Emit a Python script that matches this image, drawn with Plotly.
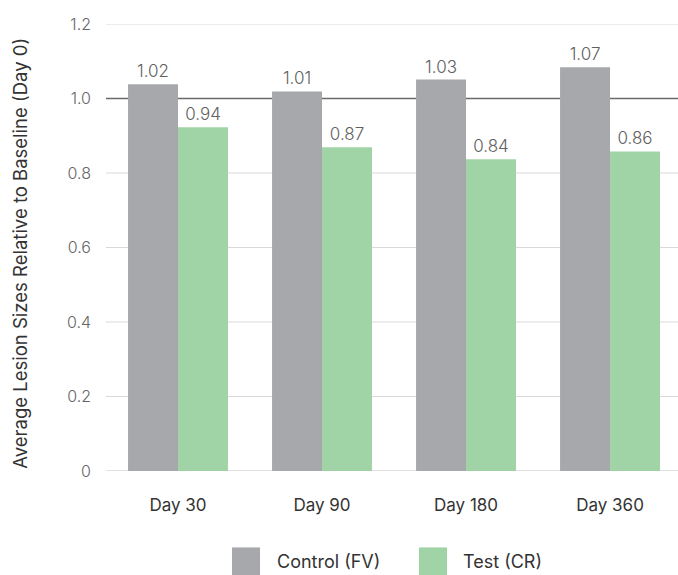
import plotly.graph_objects as go

categories = ["Day 30", "Day 90", "Day 180", "Day 360"]
control_values = [1.038, 1.019, 1.051, 1.084]
test_values = [0.923, 0.869, 0.837, 0.858]
control_labels = ["1.02", "1.01", "1.03", "1.07"]
test_labels = ["0.94", "0.87", "0.84", "0.86"]
tick_vals = [0, 0.2, 0.4, 0.6, 0.8, 1.0, 1.2]
tick_text = ["0", "0.2", "0.4", "0.6", "0.8", "1.0", "1.2"]
baseline_value = 1.0
series_names = ["Control (FV)", "Test (CR)"]
colors = ["#a7a8ab", "#a0d3a6"]

W, H = 678, 575
ML, MR, MT, MB = 106, 0, 24, 103.5
PW, PH = W - ML - MR, H - MT - MB

def px_x(x):
    return (x - ML) / PW

def px_y(y):
    return (H - MB - y) / PH

FONT = "Inter, 'Open Sans', sans-serif"
label_font = dict(family=FONT, size=17, color="#606060", weight=300)

fig = go.Figure()
fig.add_trace(go.Bar(x=categories, y=control_values, name=series_names[0],
                     marker=dict(color=colors[0], line=dict(width=0)),
                     text=control_labels, textposition="outside",
                     textfont=label_font, cliponaxis=False, showlegend=False))
fig.add_trace(go.Bar(x=categories, y=test_values, name=series_names[1],
                     marker=dict(color=colors[1], line=dict(width=0)),
                     text=test_labels, textposition="outside",
                     textfont=label_font, cliponaxis=False, showlegend=False))

shapes = []
for v in tick_vals:
    if v == baseline_value:
        continue
    shapes.append(dict(type="line", xref="paper", yref="y", x0=0, x1=1, y0=v, y1=v,
                       line=dict(color="#d9d9d9", width=1.5 if v == 0 else 1), layer="below"))
shapes.append(dict(type="line", xref="paper", yref="y", x0=0, x1=1,
                   y0=baseline_value, y1=baseline_value,
                   line=dict(color="#6b6b6b", width=1.5), layer="below"))

annotations = [dict(text="Average Lesion Sizes Relative to Baseline (Day 0)",
                    xref="paper", yref="paper", x=px_x(20), y=px_y(254),
                    xanchor="center", yanchor="middle", textangle=-90,
                    showarrow=False, font=dict(family=FONT, size=18.5, color="#333333"))]

legend_items = [(232, 275), (419, 461)]
for (sx, tx), name, col in zip(legend_items, series_names, colors):
    shapes.append(dict(type="rect", xref="paper", yref="paper",
                       x0=px_x(sx), x1=px_x(sx + 28), y0=px_y(548), y1=px_y(576),
                       fillcolor=col, line=dict(width=0)))
    annotations.append(dict(text=name, xref="paper", yref="paper",
                            x=px_x(tx), y=px_y(562), xanchor="left", yanchor="middle",
                            showarrow=False, font=dict(family=FONT, size=18, color="#333333")))

fig.update_layout(
    width=W, height=H,
    margin=dict(l=ML, r=MR, t=MT, b=MB, autoexpand=False),
    paper_bgcolor="white", plot_bgcolor="white",
    barmode="group", bargap=0.306, bargroupgap=0,
    showlegend=False,
    shapes=shapes, annotations=annotations,
)
fig.update_xaxes(range=[-0.5, 3.472], showgrid=False, showline=False, zeroline=False,
                 ticks="", tickfont=dict(family=FONT, size=17, color="#333333"),
                 ticklabelstandoff=22)
fig.update_yaxes(range=[0, 1.2], tickvals=tick_vals, ticktext=tick_text,
                 showgrid=False, zeroline=False, showline=False, ticks="",
                 tickfont=dict(family=FONT, size=16, color="#666666", weight=300),
                 ticklabelstandoff=14)

fig.write_html("out.html")
